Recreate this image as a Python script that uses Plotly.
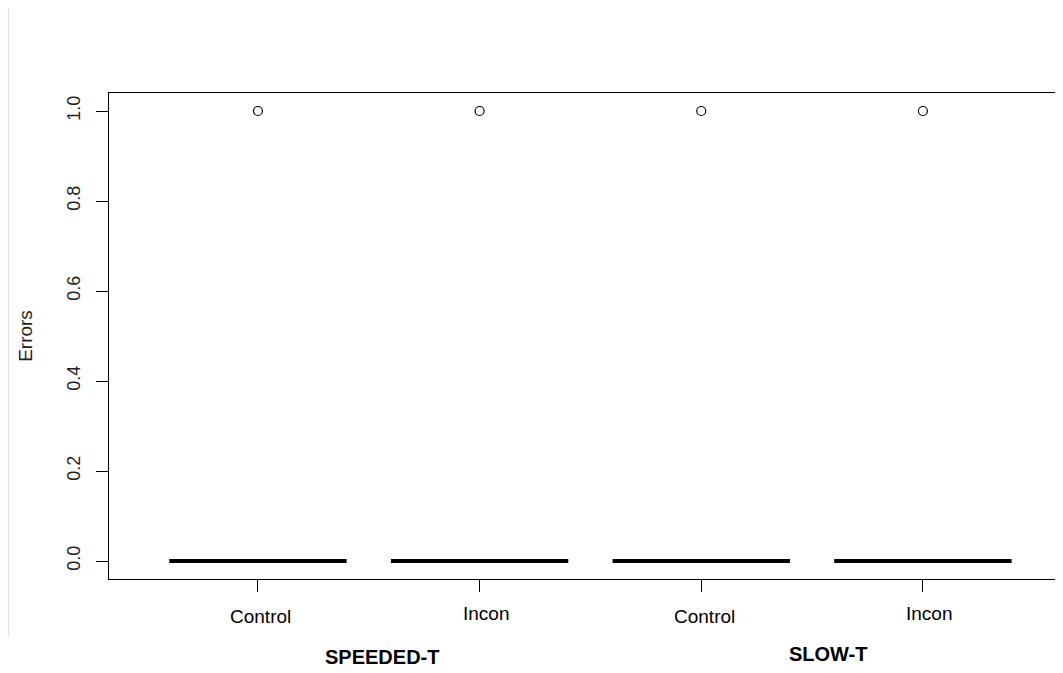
import plotly.graph_objects as go

# групповые данные: ошибки по условиям (все нули, один выброс = 1)
positions = [1, 2, 3, 4]
cond_labels = ["Control", "Incon", "Control", "Incon"]
group_labels = ["SPEEDED-T", "SLOW-T"]
group_pos = [1.5, 3.5]

speeded_control = [0, 0, 0, 0, 0, 0, 0, 0, 0, 0, 0, 0, 0, 0, 0, 0, 0, 0, 0, 1]
speeded_incon = [0, 0, 0, 0, 0, 0, 0, 0, 0, 0, 0, 0, 0, 0, 0, 0, 0, 0, 0, 1]
slow_control = [0, 0, 0, 0, 0, 0, 0, 0, 0, 0, 0, 0, 0, 0, 0, 0, 0, 0, 0, 1]
slow_incon = [0, 0, 0, 0, 0, 0, 0, 0, 0, 0, 0, 0, 0, 0, 0, 0, 0, 0, 0, 1]
errors = [speeded_control, speeded_incon, slow_control, slow_incon]

yticks = [0.0, 0.2, 0.4, 0.6, 0.8, 1.0]

fig = go.Figure()

for pos, vals in zip(positions, errors):
    fig.add_trace(go.Box(y=vals, x0=pos, width=0.8, boxpoints="outliers",
                         pointpos=0, jitter=0, whiskerwidth=0.5,
                         line=dict(color="black", width=4),
                         fillcolor="rgba(0,0,0,0)",
                         marker=dict(symbol="circle-open", size=9, color="black",
                                     line=dict(width=1.2)),
                         showlegend=False))

# подписи условий под осью
annotations = []
for pos, lab in zip(positions, cond_labels):
    shift = 3 if lab == "Control" else 6
    dy = -37 if lab == "Control" else -34
    annotations.append(dict(x=pos, y=0, xref="x", yref="paper", text=lab,
                            showarrow=False, xshift=shift, yshift=dy,
                            yanchor="middle",
                            font=dict(family="Liberation Sans", size=19, color="black")))
for pos, lab, shift, dy in zip(group_pos, group_labels, [13, 16], [-78, -75]):
    annotations.append(dict(x=pos, y=0, xref="x", yref="paper", text="<b>" + lab + "</b>",
                            showarrow=False, xshift=shift, yshift=dy,
                            yanchor="middle",
                            font=dict(family="Liberation Sans", size=20, color="black")))

# страница сдвинута на 8px (отступ body), поэтому поля меньше
fig.update_layout(
    width=1055, height=665,
    margin=dict(l=101, r=0, t=85, b=94),
    plot_bgcolor="white", paper_bgcolor="white",
    annotations=annotations,
    shapes=[dict(type="line", xref="paper", yref="paper",
                 x0=-0.1059, x1=-0.1059, y0=-0.119, y1=1.181,
                 line=dict(color="#c6d9f0", width=1.5))],
)
fig.update_xaxes(range=[0.328, 4.632], tickvals=positions, ticktext=[""] * 4,
                 ticks="outside", ticklen=12, tickcolor="black", tickwidth=1,
                 showline=True, linecolor="black", linewidth=1, mirror=True,
                 showgrid=False, zeroline=False)
fig.update_yaxes(range=[-0.04, 1.04], tickvals=yticks, tickformat=".1f",
                 tickangle=-90, ticks="outside", ticklen=12, tickcolor="black",
                 tickwidth=1, showline=True, linecolor="black", linewidth=1,
                 ticklabelstandoff=9,
                 showgrid=False, zeroline=False,
                 tickfont=dict(family="Liberation Sans", size=18, color="#222"),
                 title=dict(text="Errors", standoff=26,
                            font=dict(family="Liberation Sans", size=19, color="#222")))

fig.write_html("out.html")
